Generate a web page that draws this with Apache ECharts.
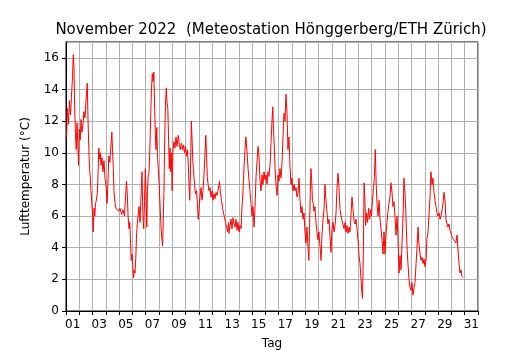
<!DOCTYPE html>
<html>
<head>
<meta charset="utf-8">
<title>November 2022 Hönggerberg</title>
<script src="https://cdn.jsdelivr.net/npm/echarts@6/dist/echarts.min.js"></script>
<style>
    html, body { margin: 0; padding: 0; background: #fff; }
    #chart { width: 530px; height: 350px; }
</style>
</head>
<body>
<div id="chart"></div>
<script>
// Tag-Beschriftungen (Mitte jedes Tages)
var tagLabels = ['01','02','03','04','05','06','07','08','09','10','11','12','13','14','15','16',
    '17','18','19','20','21','22','23','24','25','26','27','28','29','30','31'];

// Zeit in Tagen seit 1. Nov 00:00
var tage = [
    0.04,0.11,0.19,0.26,0.34,0.41,0.49,0.55,0.60,0.65,0.71,0.77,0.83,0.89,0.94,1.00,1.07,1.13,1.20,1.28,
    1.35,1.43,1.50,1.60,1.66,1.72,1.77,1.83,1.88,1.94,1.99,2.05,2.11,2.17,2.22,2.29,2.36,2.41,2.47,2.52,
    2.58,2.63,2.71,2.78,2.86,2.93,3.01,3.09,3.15,3.22,3.30,3.37,3.45,3.50,3.56,3.61,3.69,3.76,3.84,3.95,
    4.06,4.18,4.29,4.40,4.48,4.55,4.61,4.67,4.74,4.80,4.85,4.91,4.97,5.03,5.08,5.14,5.19,5.25,5.30,5.36,
    5.42,5.49,5.57,5.64,5.72,5.78,5.85,5.91,5.97,6.02,6.08,6.13,6.19,6.25,6.32,6.38,6.43,6.49,6.55,6.61,
    6.66,6.72,6.77,6.83,6.88,6.94,7.00,7.05,7.11,7.17,7.22,7.27,7.31,7.37,7.43,7.49,7.55,7.60,7.66,7.71,
    7.77,7.82,7.88,7.93,7.99,8.05,8.12,8.20,8.28,8.35,8.45,8.53,8.60,8.68,8.75,8.83,8.91,8.98,9.06,9.13,
    9.20,9.26,9.31,9.37,9.43,9.48,9.54,9.59,9.67,9.74,9.82,9.89,9.95,10.01,10.08,10.16,10.23,10.31,10.38,10.46,
    10.52,10.57,10.63,10.69,10.76,10.84,10.91,10.99,11.06,11.14,11.21,11.29,11.36,11.44,11.55,11.63,11.70,11.78,11.85,11.93,
    12.00,12.08,12.15,12.23,12.26,12.34,12.42,12.49,12.57,12.64,12.72,12.79,12.87,12.94,13.02,13.09,13.17,13.24,13.32,13.39,
    13.47,13.53,13.58,13.64,13.70,13.77,13.85,13.92,14.00,14.07,14.15,14.22,14.30,14.37,14.45,14.52,14.60,14.67,14.75,14.82,
    14.90,14.97,15.05,15.12,15.20,15.27,15.35,15.42,15.50,15.56,15.61,15.67,15.73,15.80,15.88,15.95,16.03,16.10,16.18,16.25,
    16.33,16.40,16.48,16.55,16.63,16.70,16.78,16.85,16.93,17.00,17.08,17.16,17.23,17.31,17.38,17.46,17.53,17.61,17.68,17.76,
    17.83,17.91,17.98,18.06,18.13,18.21,18.27,18.32,18.38,18.43,18.49,18.54,18.60,18.66,18.73,18.81,18.88,18.96,19.03,19.11,
    19.19,19.26,19.34,19.41,19.49,19.56,19.64,19.71,19.79,19.86,19.94,20.01,20.09,20.17,20.24,20.32,20.39,20.47,20.54,20.62,
    20.70,20.77,20.85,20.92,21.00,21.07,21.15,21.22,21.30,21.37,21.45,21.52,21.60,21.67,21.75,21.82,21.90,21.97,22.05,22.12,
    22.20,22.26,22.31,22.37,22.43,22.49,22.54,22.62,22.69,22.77,22.84,22.92,22.99,23.06,23.14,23.21,23.27,23.34,23.40,23.48,
    23.55,23.63,23.70,23.78,23.85,23.93,24.00,24.08,24.15,24.23,24.30,24.38,24.45,24.53,24.60,24.68,24.76,24.83,24.91,24.98,
    25.06,25.13,25.21,25.28,25.36,25.43,25.51,25.58,25.66,25.73,25.81,25.88,25.96,26.03,26.11,26.19,26.26,26.34,26.41,26.49,
    26.56,26.64,26.71,26.79,26.86,26.94,27.01,27.09,27.16,27.24,27.31,27.39,27.46,27.54,27.61,27.69,27.76,27.84,27.91,27.99,
    28.07,28.14,28.22,28.29,28.37,28.44,28.52,28.59,28.67,28.74,28.82,28.89,28.97,29.04,29.12,29.19,29.27,29.34,29.42,29.49,
    29.57,29.64,29.72,29.79,29.87
];

// Lufttemperatur in °C
var temperatur = [
    11.0,12.8,11.8,13.3,12.4,13.5,14.8,16.2,15.4,13.0,11.2,10.2,11.9,10.6,9.2,11.5,10.8,12.1,11.3,11.8,
    12.6,12.2,13.2,14.4,12.0,10.2,9.0,8.4,7.6,6.8,6.2,5.0,6.5,6.0,6.8,7.0,7.5,8.6,10.3,9.6,
    10.0,9.2,9.7,8.8,9.5,8.4,8.0,6.8,8.0,9.8,9.4,10.3,11.3,10.2,9.0,7.6,6.8,6.5,6.6,6.3,
    6.5,6.1,6.4,6.0,7.2,8.2,7.4,6.0,5.2,5.6,4.5,3.2,3.6,2.8,2.1,2.6,2.4,3.3,4.6,5.5,
    6.0,6.6,5.6,7.2,8.8,6.2,5.2,7.0,9.0,7.5,5.3,7.6,8.6,8.8,10.5,12.5,14.0,15.0,14.5,15.1,
    13.2,11.2,10.2,11.6,10.0,9.0,8.2,7.2,6.0,5.0,4.5,4.1,5.5,7.5,11.0,13.2,14.1,13.2,12.8,11.2,
    9.0,10.3,8.8,10.0,7.6,10.2,10.7,10.3,11.0,10.4,11.1,10.5,10.2,10.6,10.2,10.5,10.0,10.4,9.8,10.2,
    9.3,8.0,7.0,9.0,12.0,11.0,9.5,8.9,8.0,7.4,7.6,6.8,5.8,6.4,7.2,7.8,7.0,7.6,8.6,10.0,
    11.1,10.0,8.5,8.0,7.6,7.8,7.2,7.6,7.0,7.4,7.1,7.5,7.3,7.6,8.2,7.4,7.0,6.5,6.2,5.9,
    5.6,5.3,5.0,5.6,4.9,5.4,5.8,5.2,5.9,5.5,5.3,5.8,5.1,5.6,5.0,5.4,5.2,6.5,7.6,9.0,
    10.2,11.0,10.6,9.8,9.0,8.3,7.5,6.8,6.0,6.6,5.3,6.5,8.5,9.4,10.4,9.8,8.2,7.6,8.6,8.0,
    8.8,8.3,8.6,8.0,8.8,8.5,9.2,10.5,12.0,12.9,11.5,10.4,9.0,8.0,7.3,8.6,8.2,9.0,8.4,9.3,
    11.0,12.5,12.0,13.7,12.5,10.2,11.0,9.2,8.0,8.4,7.6,8.0,7.6,7.8,7.2,7.5,8.4,7.0,6.2,6.6,
    5.8,6.2,5.0,4.3,5.3,4.0,3.2,5.0,7.5,9.0,8.2,7.0,6.8,6.3,6.6,5.6,5.0,4.5,5.0,4.1,
    3.2,4.8,5.8,6.4,8.0,7.0,6.2,5.5,5.8,4.8,3.7,5.2,5.6,5.0,5.4,6.2,7.8,8.7,7.8,6.4,
    6.0,5.7,5.6,5.2,5.6,5.0,5.4,4.9,5.3,5.0,6.2,7.2,6.4,5.7,5.5,5.8,5.2,4.5,3.5,3.0,
    2.0,1.2,0.8,3.5,8.1,7.0,5.4,6.2,5.6,6.5,5.8,6.4,6.0,7.0,7.8,8.5,10.2,8.0,6.8,6.0,
    7.0,5.8,5.2,4.5,3.6,5.0,3.6,4.8,5.6,6.3,6.8,7.2,8.1,7.5,6.6,6.9,5.9,4.8,6.0,4.6,
    2.4,3.5,2.6,4.2,6.0,8.4,7.4,6.0,4.0,3.0,2.0,1.5,1.3,1.8,1.0,1.5,1.8,3.0,4.0,5.3,
    4.2,3.6,3.2,3.4,3.0,3.3,2.8,3.2,4.6,5.0,6.0,7.2,8.8,8.0,8.4,7.5,7.0,6.6,6.2,6.0,
    6.2,5.8,6.0,5.9,6.8,7.5,7.0,5.8,5.5,5.3,5.5,5.1,4.9,4.7,4.8,4.5,4.6,4.3,4.8,4.0,
    3.0,2.4,2.6,2.2,2.1
];

// y-Achse
var yMin = 0, yMax = 17, yStep = 2;

var fontFam = '"DejaVu Sans", sans-serif';

var punkte = tage.map(function (t, i) { return [t, temperatur[i]]; });

var chart = echarts.init(document.getElementById('chart'), null, {renderer: 'canvas'});

chart.setOption({
    animation: false,
    backgroundColor: '#fff',
    title: {
        text: 'November 2022  (Meteostation Hönggerberg/ETH Zürich)',
        left: 266,
        textAlign: 'center',
        top: 18,
        textStyle: {fontFamily: fontFam, fontSize: 15, fontWeight: 'normal', color: '#000'}
    },
    grid: {
        left: 66, right: 52, top: 42, bottom: 39,
        containLabel: false,
        outerBoundsMode: 'none',
        show: true, borderColor: '#000', borderWidth: 1, backgroundColor: 'transparent'
    },
    xAxis: [{
        type: 'category',
        data: tagLabels,
        boundaryGap: true,
        name: 'Tag',
        nameLocation: 'middle',
        nameGap: 27,
        nameTextStyle: {fontFamily: fontFam, fontSize: 12, color: '#000'},
        axisLine: {lineStyle: {color: '#000', width: 1}},
        axisTick: {show: true, interval: 0, length: 4, lineStyle: {color: '#000'}},
        axisLabel: {interval: 1, fontFamily: fontFam, fontSize: 12, color: '#000', margin: 8},
        splitLine: {show: true, interval: 0, lineStyle: {color: '#b0b0b0', width: 1}}
    }, {
        type: 'value',
        min: 0,
        max: 31,
        show: false
    }],
    yAxis: {
        type: 'value',
        min: yMin,
        max: yMax,
        interval: yStep,
        name: 'Lufttemperatur (°C)',
        nameLocation: 'middle',
        nameGap: 34,
        nameTextStyle: {fontFamily: fontFam, fontSize: 12, color: '#000'},
        axisLine: {show: true, lineStyle: {color: '#000', width: 1}},
        axisTick: {show: true, length: 4, lineStyle: {color: '#000'}},
        axisLabel: {fontFamily: fontFam, fontSize: 12, color: '#000', margin: 7, showMaxLabel: false},
        splitLine: {show: true, lineStyle: {color: '#b0b0b0', width: 1}}
    },
    series: [{
        type: 'line',
        xAxisIndex: 1,
        data: punkte,
        showSymbol: false,
        lineStyle: {color: '#ff0000', width: 1},
        z: 3
    }]
});
</script>
</body>
</html>
